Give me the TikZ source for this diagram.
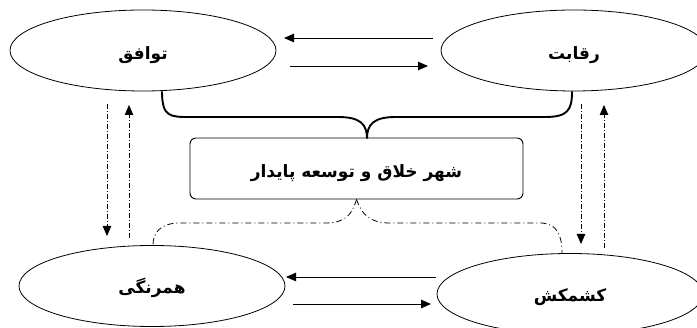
\documentclass[tikz,border=0pt]{standalone}
\usepackage{fontspec}
\newfontfamily\arabicfont[Script=Arabic]{DejaVu Sans}
\TeXXeTstate=1
\usetikzlibrary{arrows.meta,shapes.geometric,calc}
\tikzset{
  ell/.style={draw, line width=0.8pt, ellipse, minimum width=266pt, minimum height=81pt, inner sep=0pt,
    font=\arabicfont\bfseries\fontsize{17}{19}\selectfont},
  centerbox/.style={draw, line width=0.9pt, rounded corners=6pt, minimum width=333pt, minimum height=61pt, inner sep=0pt,
    font=\arabicfont\bfseries\fontsize{17}{19}\selectfont},
  solidarr/.style={line width=0.9pt, -{Triangle[length=10pt,width=8.5pt]}},
  ddarr/.style={line width=0.8pt, dash pattern=on 5pt off 2pt on 1pt off 2pt, -{Triangle[length=10pt,width=8.5pt]}},
  ddcurve/.style={line width=0.8pt, dash pattern=on 6pt off 3pt on 1pt off 3pt},
  bracestyle/.style={line width=1.9pt}
}
\begin{document}
\begin{tikzpicture}[x=1pt,y=-1pt]
\useasboundingbox (0,0) rectangle (697,328);
\clip (0,0) rectangle (697,328);
\node[ell] (tw) at (143,50.5) {\raisebox{-5pt}[\height][\depth]{\beginR توافق\endR}};
\node[ell] (rq) at (574,50.5) {\raisebox{-5pt}[\height][\depth]{\beginR رقابت\endR}};
\node[ell] (hm) at (152,286) {\raisebox{-2pt}[\height][\depth]{\beginR همرنگی\endR}};
\node[ell] (kk) at (570,294) {\raisebox{-3pt}[\height][\depth]{\beginR کشمکش\endR}};
\node[centerbox] (cb) at (356.5,168.5) {\raisebox{-5pt}[\height][\depth]{\beginR شهر خلاق و توسعه پایدار\endR}};

% top horizontal arrows
\coordinate (t1s) at (433,38);
\coordinate (t1e) at (284,38);
\coordinate (t2s) at (290,66);
\coordinate (t2e) at (428,66);
\draw[solidarr] (t1s) -- (t1e);
\draw[solidarr] (t2s) -- (t2e);

% bottom horizontal arrows
\coordinate (b1s) at (436,277);
\coordinate (b1e) at (286,277);
\coordinate (b2s) at (293,304);
\coordinate (b2e) at (431,304);
\draw[solidarr] (b1s) -- (b1e);
\draw[solidarr] (b2s) -- (b2e);

% vertical left
\coordinate (l1s) at (107,104);
\coordinate (l1e) at (107,236);
\coordinate (l2s) at (129,238);
\coordinate (l2e) at (129,105);
\draw[ddarr] (l1s) -- (l1e);
\draw[ddarr] (l2s) -- (l2e);

% vertical right
\coordinate (r1s) at (581,104);
\coordinate (r1e) at (581,244);
\coordinate (r2s) at (604,248);
\coordinate (r2e) at (604,105);
\draw[ddarr] (r1s) -- (r1e);
\draw[ddarr] (r2s) -- (r2e);

% brace
\coordinate (cusp) at (367,138.5);
\draw[bracestyle] ($(tw.south)+(19,0)$) .. controls (162,117) and (170,117) .. (190,117)
  -- (338,117) .. controls (360,117) and (367,124) .. (cusp)
  .. controls (367,124) and (374,117) .. (396,117)
  -- (545,117) .. controls (568,117) and (572,110) .. ($(rq.south)+(-2,0)$);

% dash-dot curves
\draw[ddcurve] (cb.south) .. controls (352,215) and (345,223) .. (325,223)
  -- (180,223) .. controls (160,223) and (153,233) .. ($(hm.north)+(1,0)$);
\draw[ddcurve] (cb.south) .. controls (362,215) and (370,223) .. (390,223)
  -- (540,223) .. controls (557,223) and (562,235) .. ($(kk.north)+(-8,0)$);
\end{tikzpicture}
\end{document}
